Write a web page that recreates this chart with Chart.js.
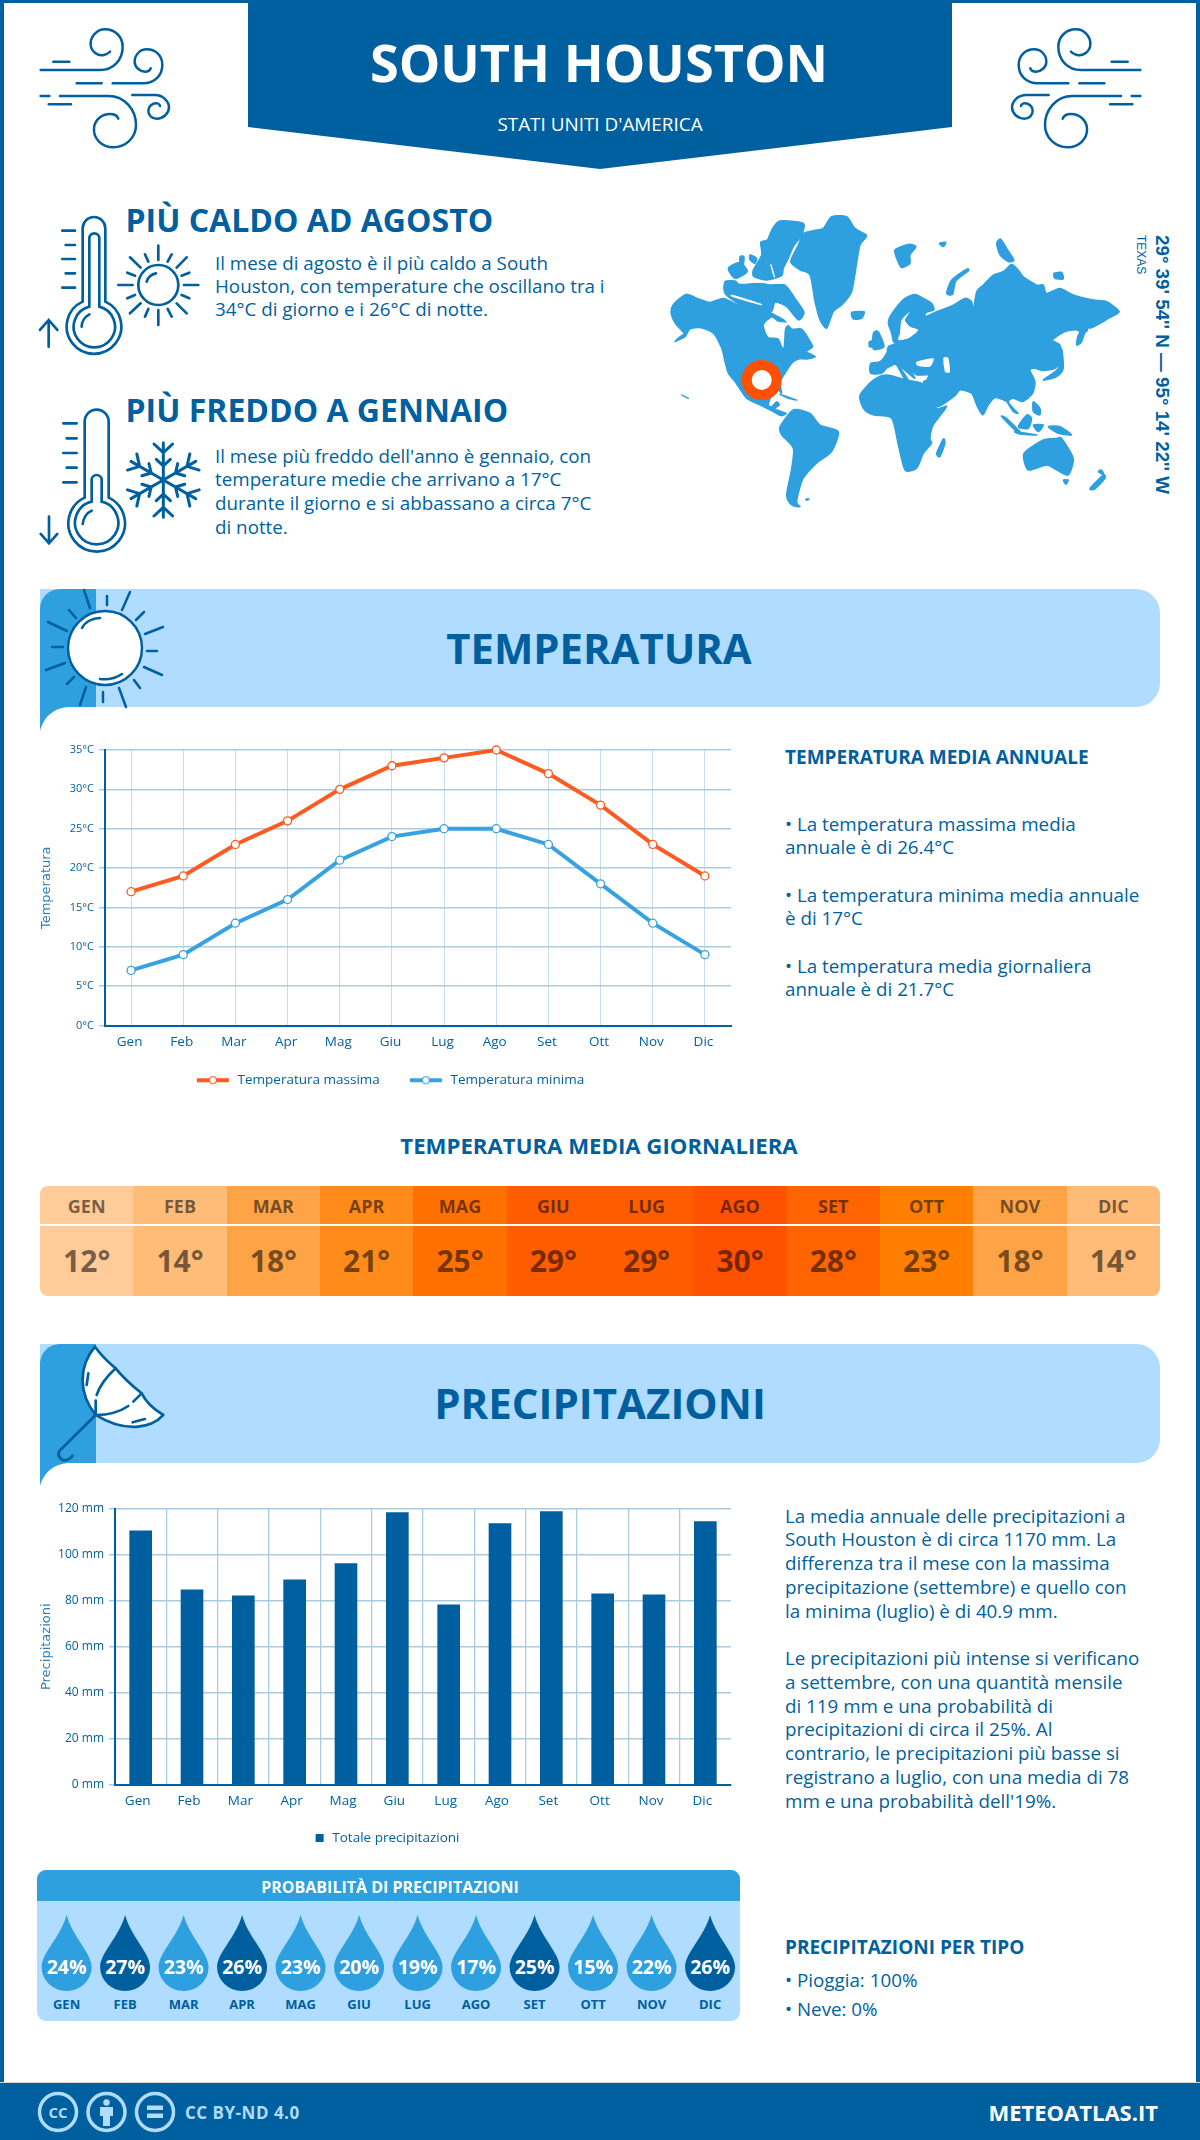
<!DOCTYPE html>
<html lang="it"><head><meta charset="utf-8">
<script src="https://cdn.jsdelivr.net/npm/chart.js@4"></script>
<style>
html,body{margin:0;padding:0;background:#fff}
#page{position:relative;width:1200px;height:2140px;overflow:hidden;background:#fff;font-family:"Open Sans",sans-serif;color:#005f9e}
.t{position:absolute;white-space:nowrap;line-height:1;transform:translateY(-50%)}
.abs{position:absolute}
canvas{position:absolute}
svg{position:absolute;left:0;top:0;overflow:visible}
</style></head><body><div id="page">
<div class="abs" style="left:0;top:0;width:1200px;height:2082px;box-sizing:border-box;border:4px solid #005f9e;border-top-width:3px;border-bottom:0"></div>
<div class="abs" style="left:40px;top:589px;width:1120px;height:118px;background:#b0dcff;border-radius:0 24px 24px 0"></div>
<div class="abs" style="left:40px;top:1344px;width:1120px;height:119px;background:#b0dcff;border-radius:0 24px 24px 0"></div>
<div class="abs" style="left:0;top:2082px;width:1200px;height:58px;background:#005f9e;border-top:1px solid #d5d5d5;box-sizing:border-box"></div>
<div class="abs" style="left:37px;top:1870px;width:703px;height:151px;background:#b0dcff;border-radius:9px;overflow:hidden"><div style="height:31px;background:#2e9fdf"></div></div>
<div class="abs" id="strip" style="left:40px;top:1186px;width:1120px;height:110px;border-radius:8px;overflow:hidden;display:flex"></div>
<div class="abs" style="left:40px;top:1224px;width:1120px;height:2px;background:#fff"></div>
<svg id="art" width="1200" height="2140" viewBox="0 0 1200 2140">
 <path d="M248,0H952V127L600,169L248,127Z" fill="#005f9e"/>
 <path d="M40,731V609A20,20 0 0 1 60,589H96V707H70C55,707 44,716 40,731Z" fill="#2e9fdf"/>
 <path d="M40,1486V1364A20,20 0 0 1 60,1344H96V1463H70C55,1463 44,1472 40,1486Z" fill="#2e9fdf"/>
 <defs><g id="wind" fill="none" stroke="#005f9e" stroke-width="7.5" stroke-linecap="round">
  <path d="M32,150H210C250,150 278,120 278,80C278,50 255,28 225,28C200,28 180,50 182,75C184,95 205,110 222,105C232,102 238,98 240,95"/>
  <path d="M70,125H118M140,190H215"/>
  <path d="M248,190H340C375,190 397,165 397,135C397,105 375,88 350,88C330,88 314,105 314,125C314,142 330,155 345,155C355,155 362,150 362,145"/>
  <path d="M32,228H58M56,253H123"/>
  <path d="M90,228H235C285,228 318,270 318,315C318,355 285,382 250,382C215,382 190,355 192,325C194,300 215,282 240,282C252,282 262,288 265,296"/>
  <path d="M307,225H375C400,225 417,245 417,262C417,280 400,296 380,296C365,296 355,285 355,272C355,258 368,250 378,250C385,250 390,254 390,258"/>
 </g>
 <g id="arm"><path d="M0,0V-112M0,-82L-28,-108M0,-82L28,-108M0,-42L-21,-62M0,-42L21,-62"/></g></defs>
 <use href="#wind" transform="translate(30,20) scale(.3333)"/>
 <use href="#wind" transform="translate(1151,20) scale(-.3333,.3333)"/>
 <g transform="translate(30,205) scale(.3333)" fill="none" stroke="#005f9e" stroke-width="8" stroke-linecap="round">
  <path d="M158,290V70A34,34 0 0 1 226,70V290A82,82 0 1 1 158,290Z"/>
  <path d="M178,305V100A15,15 0 0 1 208,100V305A62,62 0 1 1 178,305Z"/>
  <path d="M155,365C155,350 165,335 178,328"/>
  <path d="M97,77H135M107,120H135M97,162H135M107,205H135M97,248H135"/>
  <path d="M56,425V345M30,375L56,345L82,375"/>
  <circle cx="385" cy="240" r="60"/><path d="M350,230C352,218 365,207 378,205"/>
  <path d="M385,122V165M385,315V360M265,240H308M462,240H505M300,157L332,188M470,157L440,188M300,325L332,295M470,325L440,295M345,148L355,170M425,148L413,170M292,203L315,212M478,203L455,212M292,280L315,270M478,280L455,270M345,335L355,312M425,335L413,312"/>
 </g>
 <g transform="translate(30,400) scale(.3333)" fill="none" stroke="#005f9e" stroke-width="8" stroke-linecap="round">
  <path d="M164,293V65A36,36 0 0 1 236,65V293A85,85 0 1 1 164,293Z"/>
  <path d="M185,305V240A15,15 0 0 1 215,240V305A65,65 0 1 1 185,305Z"/>
  <path d="M158,372C160,355 170,338 185,332"/>
  <path d="M100,70H140M110,115H140M100,159H140M110,203H140M100,247H140"/>
  <path d="M57,350V430M32,402L57,430L82,402"/>
  <g transform="translate(400,240)" stroke-width="9"><use href="#arm"/><use href="#arm" transform="rotate(60)"/><use href="#arm" transform="rotate(120)"/><use href="#arm" transform="rotate(180)"/><use href="#arm" transform="rotate(240)"/><use href="#arm" transform="rotate(300)"/></g>
 </g>
 <g id="land" transform="translate(660,205) scale(.3333)" fill="#2e9fdf" stroke="#2e9fdf" stroke-width="4" stroke-linejoin="round">
  <path d="M40,298L78,268L112,280L150,292L190,280L232,298L300,306L330,322L345,330L372,345L395,372L425,372L445,400L458,425L440,440L466,455L440,462L415,462L395,475L372,510L360,530L365,565L350,550L335,570L325,600L335,605L350,590L358,600L345,612L378,625L362,632L340,620L300,600L260,580L225,530L205,505L195,470L185,430L160,385L120,368L90,372L75,395L45,410L60,395L72,385L50,360L40,345L33,322Z"/>
  <path d="M195,230L225,228L240,238L300,235L330,240L375,240L405,280L432,322L415,345L380,305L345,292L330,322L240,298L195,265Z"/>
  <path d="M302,112L322,105L335,75L360,48L430,55L425,90L400,125L385,160L370,190L365,212L320,225L282,215L280,195L305,150Z"/>
  <path d="M205,190L240,172L262,200L225,220Z"/><path d="M240,155L252,155L250,178L240,175Z"/><path d="M270,150L290,160L285,175L270,165Z"/>
  <path d="M392,170L415,120L430,85L470,75L490,70L515,35L560,35L585,70L620,92L600,120L590,175L575,260L545,300L520,320L500,370L480,345L465,290L450,210L420,195Z"/>
  <path d="M575,322L612,320L605,340L580,342Z"/>
  <path d="M705,135L745,118L768,125L750,150L750,175L725,188L712,165Z"/>
  <path d="M838,115L858,112L850,125Z"/>
  <path d="M1010,115L1022,102L1040,130L1062,165L1045,170L1020,150Z"/>
  <path d="M860,265L875,225L920,192L925,198L888,228L878,268Z"/>
  <path d="M1182,205L1205,202L1210,222L1185,220Z"/>
  <path d="M685,355L690,335L715,300L735,280L765,268L790,280L815,295L822,315L800,322L795,335L830,320L880,300L915,280L935,290L940,315L950,260L970,240L1000,210L1030,200L1055,178L1075,195L1090,215L1130,240L1150,240L1160,265L1200,250L1240,270L1300,285L1340,290L1378,320L1345,340L1330,350L1290,370L1280,355L1283,375L1268,385L1250,375L1215,380L1178,405L1200,420L1205,465L1185,490L1150,497L1125,490L1110,495L1125,530L1118,565L1088,590L1060,580L1045,590L1060,610L1075,625L1060,620L1040,590L1030,585L1005,578L985,600L968,630L950,600L935,565L900,555L885,572L835,605L820,590L790,535L800,525L805,510L770,510L750,490L765,520L745,505L720,485L745,525L735,525L710,480L700,480L680,490L665,505L632,505L632,475L660,470L680,445L685,425L710,415L700,410L695,385Z"/>
  <path d="M640,385L655,380L672,425L640,432Z"/><path d="M628,410L640,408L638,425L628,425Z"/>
  <path d="M600,570L640,525L680,510L740,525L785,535L800,560L830,610L860,605L820,660L810,700L815,715L790,745L770,790L735,795L715,720L695,640L640,630L610,610Z"/>
  <path d="M830,745L850,702L855,715L840,755Z"/>
  <path d="M360,665L400,615L450,625L480,660L535,680L515,740L475,770L445,800L425,830L410,890L420,905L395,900L380,870L395,790L400,730L365,690Z"/>
  <path d="M1092,745L1150,705L1190,700L1205,700L1240,760L1225,810L1190,795L1160,780L1105,795Z"/>
  <path d="M1290,850L1330,810L1335,820L1305,852Z"/><path d="M1315,800L1325,795L1332,810Z"/><path d="M1210,825L1225,825L1218,838Z"/>
  <path d="M1150,525L1195,490L1205,430L1210,490L1190,515Z"/><path d="M1250,420L1255,390L1280,360L1265,410Z"/>
  <path d="M1025,635L1040,640L1085,685L1070,680Z"/><path d="M1075,665L1100,630L1115,640L1105,670Z"/><path d="M1065,680L1130,690L1080,687Z"/><path d="M1120,660L1150,660L1135,680Z"/><path d="M1165,665L1200,665L1235,690L1195,685Z"/><path d="M1120,590L1140,610L1140,630L1120,620Z"/>
  <path d="M360,568L410,585L385,580Z"/><path d="M65,570L85,580L75,575Z"/><path d="M438,882L448,882L440,886Z"/>
 </g>
 <g id="seas" transform="translate(660,205) scale(.3333)" fill="#fff">
  <path d="M312,360L335,338L355,350L390,355L375,370L370,428L355,400L325,395Z"/>
  <path d="M715,405L745,400L775,375L750,365L735,345L750,320L725,345L720,385Z"/><path d="M770,470L820,460L810,485L775,483Z"/><path d="M850,460L865,460L870,500L855,500Z"/>
  <path d="M220,270L300,295L300,300L218,276Z"/><path d="M290,228L360,232L360,236L290,232Z"/><path d="M335,180L345,215L341,215L331,180Z"/>
 </g>
 <circle cx="761.7" cy="380" r="15" fill="#fff" stroke="#ff5000" stroke-width="10"/>
 <circle cx="105" cy="648" r="37" fill="#fff" stroke="#005f9e" stroke-width="2.5"/>
 <g fill="none" stroke="#005f9e" stroke-width="2.5" stroke-linecap="round">
  <path d="M82,628C85,622 92,618 100,618M100,679C108,680 116,678 122,674"/>
  <path d="M84,590L90,608M107,596V605M130,592L122,610M144,612L136,620M163,627L145,634M157,651H147M162,675L144,667M140,688L134,680M119,688L126,707M103,692V702M86,687L80,705M74,677L67,684M65,663L46,670M63,647H52M67,631L48,622M76,618L69,610"/>
 </g>
 <g transform="translate(35,1340) scale(.3333)" fill="none" stroke="#005f9e" stroke-width="8" stroke-linecap="round" stroke-linejoin="round">
  <path fill="#fff" d="M180,20C205,55 225,70 242,85C270,120 295,140 320,160C335,190 360,210 385,225C350,265 270,280 182,225C130,160 130,80 180,20Z"/>
  <path d="M242,85C215,110 195,135 185,165M182,182V225M182,225C220,225 255,215 280,198M295,185L320,160M160,100L155,135M293,247L330,237"/>
  <path d="M182,225L78,328C60,345 80,365 95,360C105,357 112,350 112,347"/>
 </g>
 <g fill="none" stroke="#b0dcff" stroke-width="3.5">
  <circle cx="58" cy="2112" r="18.5"/><circle cx="106.500" cy="2112" r="18.5"/><circle cx="155" cy="2112" r="18.5"/>
 </g>
 <g fill="#b0dcff">
  <circle cx="106.500" cy="2102.500" r="3.2"/><path d="M100,2107H113V2116H110V2126H103V2116H100Z"/>
  <rect x="147" y="2105.500" width="16" height="4.500"/><rect x="147" y="2113.500" width="16" height="4.500"/>
 </g>
 <g id="drops"></g>
</svg>
<canvas id="tempChart" style="left:30px;top:735px;width:715px;height:362px" width="715" height="362"></canvas>
<canvas id="rainChart" style="left:30px;top:1495px;width:715px;height:360px" width="715" height="360"></canvas>
<div id="txt"></div>
</div>
<script>
const months = ['Gen','Feb','Mar','Apr','Mag','Giu','Lug','Ago','Set','Ott','Nov','Dic'];
const monthsUpper = ['GEN','FEB','MAR','APR','MAG','GIU','LUG','AGO','SET','OTT','NOV','DIC'];
const tempMax = [17,19,23,26,30,33,34,35,32,28,23,19];
const tempMin = [7,9,13,16,21,24,25,25,23,18,13,9];
const tempMean = [12,14,18,21,25,29,29,30,28,23,18,14];
const meanColors = ['#ffcb99','#ffbb78','#ffa347','#ff8c1a','#ff7000','#ff5c00','#ff5c00','#ff5200','#ff6400','#ff8000','#ffa347','#ffbb78'];
const rainTotal = [110.5,84.8,82.2,89.1,96.2,118.4,78.3,113.6,118.9,83.1,82.6,114.5];
const rainChance = [24,27,23,26,23,20,19,17,25,15,22,26];

const DARK='#005f9e', MID='#2e9fdf', GRID='#abcbe0', FONT='"Open Sans"';
// round the decorative map outlines while still passing through their points
document.querySelectorAll('#land path,#seas path').forEach(p=>{
 const n=p.getAttribute('d').match(/-?\d+(\.\d+)?/g).map(Number),q=[];
 for(let i=0;i<n.length;i+=2)q.push([n[i],n[i+1]]);
 const L=q.length,k=.12;let s='M'+q[0].join(',');
 for(let i=0;i<L;i++){const a=q[(i-1+L)%L],b=q[i],c=q[(i+1)%L],d=q[(i+2)%L];
  s+=`C${b[0]+(c[0]-a[0])*k},${b[1]+(c[1]-a[1])*k} ${c[0]-(d[0]-b[0])*k},${c[1]-(d[1]-b[1])*k} ${c[0]},${c[1]}`}
 p.setAttribute('d',s+'Z')});

const txt=document.getElementById('txt');
function T(x,y,s,size,weight,o){o=o||{};const d=document.createElement('div');d.className='t';d.textContent=s;
 let st=`top:${y}px;font-size:${size}px;font-weight:${weight||400};color:${o.color||DARK};`;
 if(o.center){st+=`left:${x}px;transform:translate(-50%,-50%);`}else if(o.right){st+=`right:${1200-x}px;`}else{st+=`left:${x}px;`}
 if(o.ls)st+=`letter-spacing:${o.ls}px;`;if(o.font)st+=`font-family:${o.font};`;
 d.style.cssText=st;txt.appendChild(d);return d}
const BODY=18.8;
T(599,62,'SOUTH HOUSTON',52.3,700,{center:1,color:'#fff'});
T(600,124,"STATI UNITI D'AMERICA",18.9,400,{center:1,color:'#fff'});
T(125.5,220,'PIÙ CALDO AD AGOSTO',32,700);
[['Il mese di agosto è il più caldo a South',263],['Houston, con temperature che oscillano tra i',286],['34°C di giorno e i 26°C di notte.',309]].forEach(l=>T(215,l[1],l[0],BODY));
T(125.5,410,'PIÙ FREDDO A GENNAIO',32,700);
[["Il mese più freddo dell'anno è gennaio, con",456],['temperature medie che arrivano a 17°C',479],['durante il giorno e si abbassano a circa 7°C',503],['di notte.',527]].forEach(l=>T(215,l[1],l[0],BODY));
T(599,648,'TEMPERATURA',41.8,700,{center:1});
T(600,1403,'PRECIPITAZIONI',42,700,{center:1});
T(785,757,'TEMPERATURA MEDIA ANNUALE',19,700);
[['• La temperatura massima media',824],['annuale è di 26.4°C',847],['• La temperatura minima media annuale',895],['è di 17°C',918],['• La temperatura media giornaliera',966],['annuale è di 21.7°C',989]].forEach(l=>T(785,l[1],l[0],BODY));
T(599,1146,'TEMPERATURA MEDIA GIORNALIERA',22.2,700,{center:1});
[['La media annuale delle precipitazioni a',1516],['South Houston è di circa 1170 mm. La',1539],['differenza tra il mese con la massima',1563],['precipitazione (settembre) e quello con',1587],['la minima (luglio) è di 40.9 mm.',1611],['Le precipitazioni più intense si verificano',1658],['a settembre, con una quantità mensile',1682],['di 119 mm e una probabilità di',1706],['precipitazioni di circa il 25%. Al',1729],['contrario, le precipitazioni più basse si',1753],['registrano a luglio, con una media di 78',1777],["mm e una probabilità dell'19%.",1801]].forEach(l=>T(785,l[1],l[0],BODY));
T(390,1887,'PROBABILITÀ DI PRECIPITAZIONI',16,700,{center:1,color:'#fff'});
T(785,1947,'PRECIPITAZIONI PER TIPO',19,700);
T(785,1980,'• Pioggia: 100%',BODY);
T(785,2009,'• Neve: 0%',BODY);
T(185,2112,'CC BY-ND 4.0',17,700,{color:'#b0dcff',ls:.5});
T(1158,2112,'METEOATLAS.IT',22,700,{right:1,color:'#fff'});
T(58,2112,'CC',15,700,{center:1,color:'#b0dcff'});
const v1=T(1152,235,"29° 39' 54'' N — 95° 14' 22'' W",18.8,700,{font:'"Liberation Sans"'});
v1.style.writingMode='vertical-rl';v1.style.transform='none';
const v2=T(1135,235,'TEXAS',12,400,{font:'"Liberation Sans"'});
v2.style.writingMode='vertical-rl';v2.style.transform='none';

const strip=document.getElementById('strip');
monthsUpper.forEach((m,i)=>{const c=document.createElement('div');
 c.style.cssText=`flex:1;background:${meanColors[i]};position:relative;color:rgba(0,0,0,.55);text-align:center;font-weight:700`;
 c.innerHTML=`<div style="position:absolute;left:0;right:0;top:11px;font-size:18px;line-height:18px">${m}</div><div style="position:absolute;left:0;right:0;top:58px;font-size:30px;line-height:34px">${tempMean[i]}°</div>`;
 strip.appendChild(c)});

const SVGNS='http://www.w3.org/2000/svg', drops=document.getElementById('drops');
rainChance.forEach((p,i)=>{const cx=66.6+58.5*i;
 const a=document.createElementNS(SVGNS,'path');
 a.setAttribute('d',`M${cx},1915C${cx+6},1937 ${cx+25},1953 ${cx+25},1967A25,24 0 0 1 ${cx-25},1967C${cx-25},1953 ${cx-6},1937 ${cx},1915Z`);
 a.setAttribute('fill',p>=25?DARK:MID);drops.appendChild(a);
 T(cx,1967,p+'%',19.5,700,{center:1,color:'#fff'});
 T(cx,2004,monthsUpper[i],13,700,{center:1});
});

function lineKey(color){const c=document.createElement('canvas');c.width=54;c.height=12;const g=c.getContext('2d');
 g.fillStyle=color;g.fillRect(20,4,32,4);g.beginPath();g.arc(36,6,3.5,0,7);g.fillStyle='#fff';g.fill();g.lineWidth=1.2;g.strokeStyle=color;g.stroke();return c}
function boxKey(color){const c=document.createElement('canvas');c.width=24;c.height=8;const g=c.getContext('2d');g.fillStyle=color;g.fillRect(14,0,8,8);return c}
const tickFont={family:FONT,size:11}, xFont={family:FONT,size:13.5}, titleFont={family:'"DejaVu Sans"',size:13};

new Chart(document.getElementById('tempChart'),{type:'line',
 data:{labels:months,datasets:[
  {label:'Temperatura massima',data:tempMax,borderColor:'#ff5a1f',backgroundColor:'#ff5a1f',borderWidth:4,pointRadius:4,pointBorderWidth:1.3,pointBackgroundColor:'#fff',pointBorderColor:'#ff5a1f',tension:0,clip:false},
  {label:'Temperatura minima',data:tempMin,borderColor:'#38a2e0',backgroundColor:'#38a2e0',borderWidth:4,pointRadius:4,pointBorderWidth:1.3,pointBackgroundColor:'#fff',pointBorderColor:'#38a2e0',tension:0,clip:false}]},
 options:{responsive:false,animation:false,devicePixelRatio:1,layout:{padding:{top:15,right:14,left:0,bottom:0}},
  plugins:{tooltip:{enabled:false},legend:{position:'bottom',labels:{usePointStyle:true,pointStyleWidth:54,boxHeight:12,padding:10,color:DARK,font:{family:FONT,size:13.5},
    generateLabels(ch){return ch.data.datasets.map((d,i)=>({text:d.label,fontColor:DARK,datasetIndex:i,pointStyle:lineKey(d.borderColor),lineWidth:0,strokeStyle:'transparent',fillStyle:'transparent'}))}}}},
  scales:{
   x:{offset:true,afterFit(s){s.height=38},grid:{color:'#c6dcea',lineWidth:1,drawTicks:false},border:{color:DARK,width:2},ticks:{color:DARK,font:xFont,padding:9,labelOffset:-1.5,maxRotation:0,autoSkip:false}},
   y:{min:0,max:35,afterFit(s){s.width=75},grid:{color:GRID,lineWidth:1.5,tickLength:6,tickColor:GRID},border:{color:DARK,width:2},title:{display:true,text:'Temperatura',color:'#2e7fb5',font:titleFont,padding:{top:9,bottom:0}},ticks:{stepSize:5,color:DARK,font:tickFont,padding:5,callback:v=>v+'°C'}}}}});

new Chart(document.getElementById('rainChart'),{type:'bar',
 data:{labels:months,datasets:[{label:'Totale precipitazioni',data:rainTotal,backgroundColor:DARK,barThickness:22}]},
 options:{responsive:false,animation:false,devicePixelRatio:1,layout:{padding:{top:14,right:14,left:0,bottom:0}},
  plugins:{tooltip:{enabled:false},legend:{position:'bottom',labels:{usePointStyle:true,pointStyleWidth:24,boxHeight:8,padding:10,color:DARK,font:{family:FONT,size:13.5},
    generateLabels(ch){return ch.data.datasets.map((d,i)=>({text:d.label,fontColor:DARK,datasetIndex:i,pointStyle:boxKey(d.backgroundColor),lineWidth:0,strokeStyle:'transparent',fillStyle:'transparent'}))}}}},
  scales:{
   x:{afterFit(s){s.height=37},grid:{color:c=>c.type==='tick'?GRID:'transparent',lineWidth:1.3,drawTicks:false},border:{color:DARK,width:2},ticks:{color:DARK,font:xFont,padding:9,labelOffset:-3,maxRotation:0,autoSkip:false}},
   y:{min:0,max:120,afterFit(s){s.width=85},grid:{color:GRID,lineWidth:1.5,tickLength:6,tickColor:GRID},border:{color:DARK,width:2},title:{display:true,text:'Precipitazioni',color:'#2e7fb5',font:titleFont,padding:{top:9,bottom:0}},ticks:{stepSize:20,color:DARK,font:{family:FONT,size:12},padding:5,callback:v=>v+' mm'}}}}});
</script></body></html>
